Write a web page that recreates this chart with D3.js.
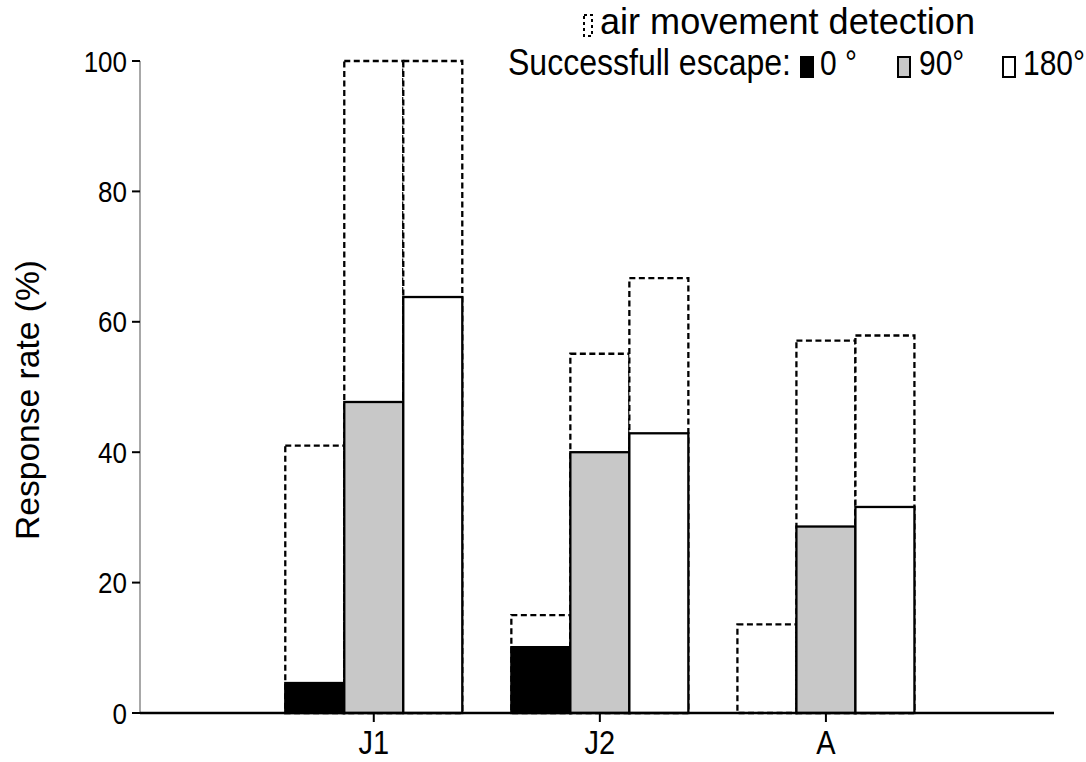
<!DOCTYPE html>
<html><head><meta charset="utf-8">
<script src="https://cdn.jsdelivr.net/npm/d3@7"></script>
<style>body{margin:0;background:#fff}svg{display:block}text{font-family:"Liberation Sans",Arial,sans-serif}</style>
</head><body>
<svg id="c" width="1086" height="762"></svg>
<script>
const groups = ["J1", "J2", "A"];
const angles = ["0", "90", "180"];
const angleLabels = ["0 °", "90°", "180°"];
const detection = [[41.0, 100, 100], [15.0, 55.1, 66.7], [13.6, 57.1, 57.9]];
const escape = [[4.6, 47.7, 63.8], [10.1, 40.0, 42.9], [0, 28.6, 31.6]];
const yTicks = [0, 20, 40, 60, 80, 100];
const fills = ["#000000", "#c8c8c8", "#ffffff"];

const svg = d3.select("#c");
const x0 = 140, x1 = 1054, yTop = 61, yBot = 713;
const x = d3.scaleBand().domain(groups).range([x0, x1]).paddingInner(0.217).paddingOuter(0.63).align(0.51);
const xs = d3.scaleBand().domain(angles).range([0, x.bandwidth()]).padding(0);
const y = d3.scaleLinear().domain([0, 100]).range([yBot, yTop]);

function stretchedText(sel, tx, ty, size, k) {
  return sel.append("text").attr("transform", `translate(${tx},${ty}) scale(1,${k})`).attr("font-size", size);
}

// bars
const data = [];
groups.forEach((g, gi) => angles.forEach((a, ai) => data.push({g, a, ai, det: detection[gi][ai], esc: escape[gi][ai]})));

const gb = svg.append("g");
gb.selectAll("rect.det").data(data).join("rect").attr("class", "det")
  .attr("x", d => x(d.g) + xs(d.a)).attr("width", xs.bandwidth())
  .attr("y", d => y(d.det)).attr("height", d => y(0) - y(d.det))
  .attr("fill", "#fff").attr("stroke", "#000").attr("stroke-width", 2.3)
  .attr("stroke-dasharray", "6,3.5");
gb.selectAll("rect.esc").data(data.filter(d => d.esc > 0)).join("rect").attr("class", "esc")
  .attr("x", d => x(d.g) + xs(d.a)).attr("width", xs.bandwidth())
  .attr("y", d => y(d.esc)).attr("height", d => y(0) - y(d.esc))
  .attr("fill", d => fills[d.ai]).attr("stroke", "#000").attr("stroke-width", 2.3);

// y axis
const ya = svg.append("g");
ya.append("line").attr("x1", x0).attr("x2", x0).attr("y1", y(100)).attr("y2", y(0)).attr("stroke", "#a8a8a8").attr("stroke-width", 2);
ya.selectAll("line.t").data(yTicks).join("line").attr("class", "t")
  .attr("x1", x0 - 8).attr("x2", x0).attr("y1", d => y(d)).attr("y2", d => y(d)).attr("stroke", "#000").attr("stroke-width", 2);
yTicks.forEach(t => {
  stretchedText(ya, x0 - 13, y(t) + 10.5, 26, 1.15).attr("text-anchor", "end").text(t);
});

// x axis
const xa = svg.append("g");
xa.append("line").attr("x1", x0).attr("x2", x1).attr("y1", yBot).attr("y2", yBot).attr("stroke", "#000").attr("stroke-width", 2.5);
xa.selectAll("line.t").data(groups).join("line").attr("class", "t")
  .attr("x1", d => x(d) + x.bandwidth() / 2).attr("x2", d => x(d) + x.bandwidth() / 2)
  .attr("y1", yBot).attr("y2", yBot + 9).attr("stroke", "#000").attr("stroke-width", 2);
groups.forEach(g => {
  stretchedText(xa, x(g) + x.bandwidth() / 2, 754, 29, 1.12).attr("text-anchor", "middle").text(g);
});

// y title
svg.append("text").attr("transform", "translate(39,400) rotate(-90) scale(1.05,1.05)").attr("text-anchor", "middle")
  .attr("font-size", 32).text("Response rate (%)");

// legend
const lg = svg.append("g");
lg.append("rect").attr("x", 584).attr("y", 15).attr("width", 8).attr("height", 21)
  .attr("fill", "#fff").attr("stroke", "#000").attr("stroke-width", 2).attr("stroke-dasharray", "3,3");
stretchedText(lg, 600, 34, 33, 1.1).attr("textLength", 375).attr("lengthAdjust", "spacingAndGlyphs").text("air movement detection");
stretchedText(lg, 508, 75, 33, 1.1).attr("textLength", 283).attr("lengthAdjust", "spacingAndGlyphs").text("Successfull escape:");
const legX = [801, 898, 1003];
const legTX = [820, 919, 1023];
angles.forEach((a, i) => {
  lg.append("rect").attr("x", legX[i]).attr("y", 57).attr("width", 12).attr("height", 20)
    .attr("fill", fills[i]).attr("stroke", "#000").attr("stroke-width", 2);
  stretchedText(lg, legTX[i], 75, 30, 1.15).text(angleLabels[i]);
});
</script>
</body></html>
